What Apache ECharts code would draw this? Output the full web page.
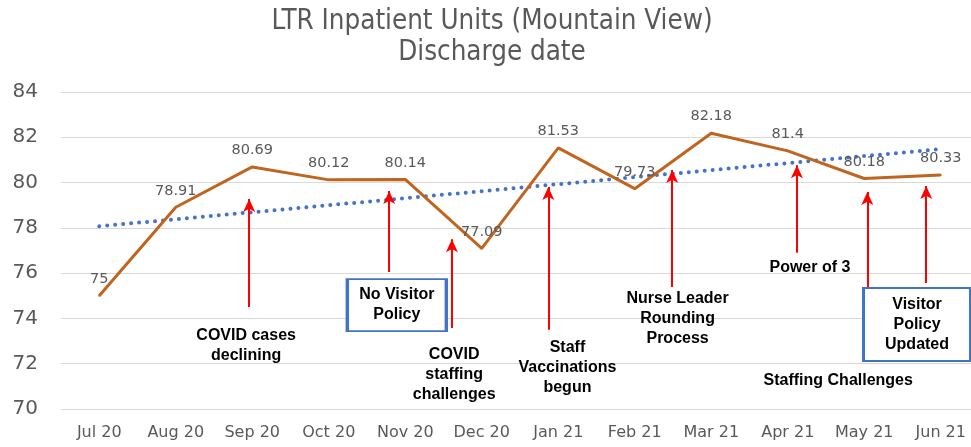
<!DOCTYPE html>
<html>
<head>
<meta charset="utf-8">
<script src="https://cdn.jsdelivr.net/npm/echarts@6/dist/echarts.min.js"></script>
<style>
  html, body { margin: 0; padding: 0; background: #fff; }
  #chart { width: 971px; height: 447px; }
</style>
</head>
<body>
<div id="chart"></div>
<script>
// data
var months = ['Jul 20', 'Aug 20', 'Sep 20', 'Oct 20', 'Nov 20', 'Dec 20',
              'Jan 21', 'Feb 21', 'Mar 21', 'Apr 21', 'May 21', 'Jun 21'];
var dischargeValues = [75, 78.91, 80.69, 80.12, 80.14, 77.09, 81.53, 79.73, 82.18, 81.4, 80.18, 80.33];
// trend line ends (Jul 20 / Jun 21)
var trendValues = [78.07, null, null, null, null, null, null, null, null, null, null, 81.48];
var yTicks = [70, 72, 74, 76, 78, 80, 82, 84];

// annotations: x in month index units, y in chart units
var arrows = [
  [1.96, 74.5, 79.27],
  [3.79, 76.05, 79.63],
  [4.61, 73.58, 77.5],
  [5.87, 73.5, 79.8],
  [7.49, 75.39, 80.55],
  [9.12, 76.9, 80.77],
  [10.04, 72.43, 79.58],
  [10.81, 75.56, 79.85]
];
var notes = [
  { text: 'COVID cases\ndeclining', at: [1.92, 72.78] },
  { text: 'No Visitor\nPolicy', at: [3.89, 74.59], box: [99, 52] },
  { text: 'COVID\nstaffing\nchallenges', at: [4.64, 71.52] },
  { text: 'Staff\nVaccinations\nbegun', at: [6.12, 71.83] },
  { text: 'Nurse Leader\nRounding\nProcess', at: [7.56, 74.0] },
  { text: 'Power of 3', at: [9.29, 76.23] },
  { text: 'Staffing Challenges', at: [9.66, 71.24] },
  { text: 'Visitor\nPolicy\nUpdated', at: [10.69, 73.73], box: [107, 73] }
];

var chart = echarts.init(document.getElementById('chart'));

var arrowLines = arrows.map(function (a) {
  return [{ coord: [a[0], a[1]] }, { coord: [a[0], a[2]] }];
});

var notePoints = notes.map(function (n) {
  return {
    coord: n.at,
    value: n.text,
    symbol: 'rect',
    symbolSize: n.box || [1, 1],
    itemStyle: n.box
      ? { color: '#fff', borderColor: '#4472C4', borderWidth: 2.5 }
      : { color: 'rgba(0,0,0,0)' },
    label: {
      show: true,
      position: 'inside',
      formatter: n.text,
      color: '#000',
      fontFamily: 'Liberation Sans',
      fontWeight: 'bold',
      fontSize: 16,
      lineHeight: 20,
      align: 'center'
    }
  };
});

var option = {
  animation: false,
  backgroundColor: '#fff',
  title: {
    text: 'LTR Inpatient Units (Mountain View)\nDischarge date',
    left: 492,
    textAlign: 'center',
    top: 6,
    padding: 0,
    textStyle: {
      color: '#595959',
      fontFamily: 'DejaVu Sans Condensed',
      fontWeight: 'normal',
      fontSize: 27.5,
      lineHeight: 31
    }
  },
  grid: { left: 61, width: 918, top: 92, bottom: 38, outerBoundsMode: 'none', containLabel: false },
  xAxis: [
    {
      type: 'category',
      data: months,
      boundaryGap: true,
      axisLine: { show: false },
      axisTick: { show: false },
      axisLabel: { interval: 0, color: '#595959', fontFamily: 'DejaVu Sans', fontSize: 16, margin: 16 }
    },
    { type: 'value', min: -0.5, max: 11.5, show: false }
  ],
  yAxis: {
    type: 'value',
    min: yTicks[0],
    max: yTicks[yTicks.length - 1],
    interval: 2,
    axisLine: { show: false },
    axisTick: { show: false },
    axisLabel: { color: '#595959', fontFamily: 'DejaVu Sans', fontSize: 20, margin: 23 },
    splitLine: { lineStyle: { color: '#D9D9D9', width: 1 } }
  },
  series: [
    {
      name: 'Trend',
      type: 'line',
      data: trendValues,
      connectNulls: true,
      symbol: 'none',
      silent: true,
      lineStyle: { color: '#4472C4', width: 4, type: [0, 8], cap: 'round' },
      z: 2
    },
    {
      name: 'Discharge',
      type: 'line',
      data: dischargeValues,
      symbol: 'circle',
      symbolSize: 2,
      showSymbol: true,
      itemStyle: { color: '#C0651F' },
      lineStyle: { color: '#C0651F', width: 3 },
      label: {
        show: true,
        position: 'top',
        distance: 8,
        color: '#595959',
        fontFamily: 'DejaVu Sans',
        fontSize: 14.5
      },
      z: 3
    },
    {
      name: 'Notes',
      type: 'line',
      xAxisIndex: 1,
      data: [],
      silent: true,
      markLine: {
        silent: true,
        symbol: ['none', 'arrow'],
        symbolSize: [9, 13],
        label: { show: false },
        lineStyle: { color: '#FF0000', width: 2, type: 'solid' },
        data: arrowLines
      },
      markPoint: {
        silent: true,
        data: notePoints
      },
      z: 4
    }
  ]
};

chart.setOption(option);
</script>
</body>
</html>
